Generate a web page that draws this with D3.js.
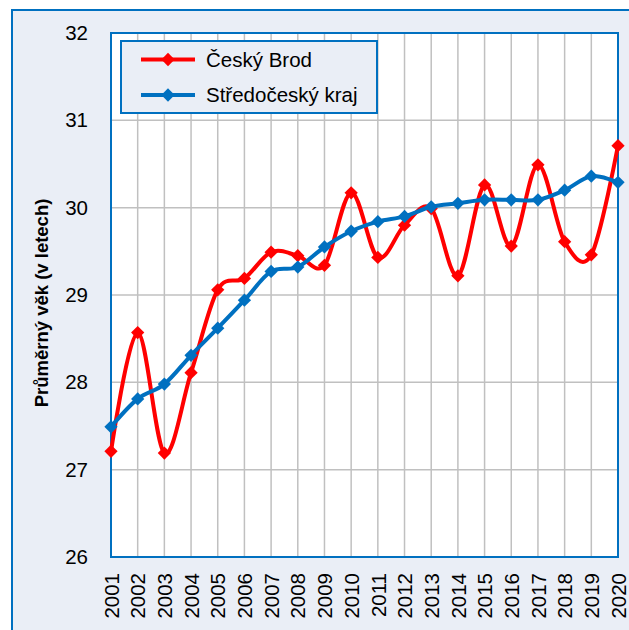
<!DOCTYPE html>
<html><head><meta charset="utf-8">
<script src="https://cdn.jsdelivr.net/npm/d3@7"></script>
<style>body{margin:0;background:#fff;} svg{display:block;}</style>
</head><body>
<script>
const years = ["2001","2002","2003","2004","2005","2006","2007","2008","2009","2010","2011","2012","2013","2014","2015","2016","2017","2018","2019","2020"];
const ceskyBrod = [27.21,28.57,27.19,28.11,29.06,29.19,29.49,29.45,29.34,30.17,29.43,29.80,29.99,29.22,30.26,29.56,30.49,29.61,29.46,30.71];
const stredocesky = [27.49,27.81,27.98,28.31,28.62,28.94,29.27,29.32,29.55,29.73,29.84,29.90,30.01,30.05,30.09,30.09,30.09,30.20,30.36,30.29];
const yTicks = [26,27,28,29,30,31,32];
const seriesNames = ["Český Brod","Středočeský kraj"];
const yTitle = "Průměrný věk (v letech)";

const W=629,H=630;
const font = "Liberation Sans, Arial, sans-serif";
const svg = d3.select("body").append("svg").attr("width",W).attr("height",H);
svg.append("rect").attr("x",12).attr("y",10).attr("width",640).attr("height",640)
  .attr("fill","#EAEEF6").attr("stroke","#0070C0").attr("stroke-width",2);

const L=111,R=618,T=33,B=557;
const x = d3.scalePoint().domain(years).range([L,R]);
const y = d3.scaleLinear().domain([26,32]).range([B,T]);

svg.append("rect").attr("x",L).attr("y",T).attr("width",R-L).attr("height",B-T).attr("fill","#fff");
const g = svg.append("g");
g.selectAll("line.v").data(years).join("line")
  .attr("x1",d=>x(d)).attr("x2",d=>x(d)).attr("y1",T).attr("y2",B)
  .attr("stroke","#C0C0C0").attr("stroke-width",1.5);
g.selectAll("line.h").data(yTicks).join("line")
  .attr("x1",L).attr("x2",R).attr("y1",d=>y(d)).attr("y2",d=>y(d))
  .attr("stroke","#C0C0C0").attr("stroke-width",1.5);

// axes (text only)
const ya = svg.append("g").attr("transform",`translate(${L},0)`).call(d3.axisLeft(y).tickValues(yTicks).tickSize(0).tickPadding(23).tickFormat(d3.format("d")));
ya.select(".domain").remove();
ya.selectAll("text").attr("font-family",font).attr("font-size",20.5).attr("fill","#000");

const xa = svg.append("g").attr("transform",`translate(0,${B})`).call(d3.axisBottom(x).tickSize(0));
xa.select(".domain").remove();
xa.selectAll("text").attr("font-family",font).attr("font-size",20.5).attr("fill","#000")
  .attr("transform","rotate(-90)").attr("text-anchor","end").attr("dy","0.35em").attr("x",-16).attr("y",0);

svg.append("rect").attr("x",L).attr("y",T).attr("width",R-L).attr("height",B-T).attr("fill","none")
  .attr("stroke","#0070C0").attr("stroke-width",2);

svg.append("text").attr("transform",`translate(48,${(T+B)/2+8}) rotate(-90)`)
  .attr("text-anchor","middle").attr("font-family",font).attr("font-weight","bold").attr("font-size",18.5)
  .text(yTitle);

const line = d3.line().x((d,i)=>x(years[i])).y(d=>y(d)).curve(d3.curveCatmullRom.alpha(0));
const marker = d3.symbol().type(d3.symbolSquare).size(88);
function drawSeries(data,color){
  svg.append("path").attr("d",line(data)).attr("fill","none").attr("stroke",color).attr("stroke-width",4).attr("stroke-linejoin","round");
  svg.append("g").selectAll("path").data(data).join("path")
    .attr("d",marker).attr("fill",color)
    .attr("transform",(d,i)=>`translate(${x(years[i])},${y(d)}) rotate(45)`);
}
drawSeries(ceskyBrod,"#FF0000");
drawSeries(stredocesky,"#0070C0");

// legend
const lg = svg.append("g");
lg.append("rect").attr("x",121).attr("y",41).attr("width",256).attr("height",72)
  .attr("fill","#EAEEF6").attr("stroke","#0070C0").attr("stroke-width",2);
const colors=["#FF0000","#0070C0"];
seriesNames.forEach((n,i)=>{
  const yy = 59.5 + i*35.5;
  lg.append("line").attr("x1",141).attr("x2",195).attr("y1",yy).attr("y2",yy).attr("stroke",colors[i]).attr("stroke-width",4);
  lg.append("path").attr("d",marker).attr("fill",colors[i])
    .attr("transform",`translate(168,${yy}) rotate(45)`);
  lg.append("text").attr("x",206).attr("y",yy).attr("dy","0.35em").attr("font-family",font).attr("font-size",20.5).text(n);
});
</script>
</body></html>
